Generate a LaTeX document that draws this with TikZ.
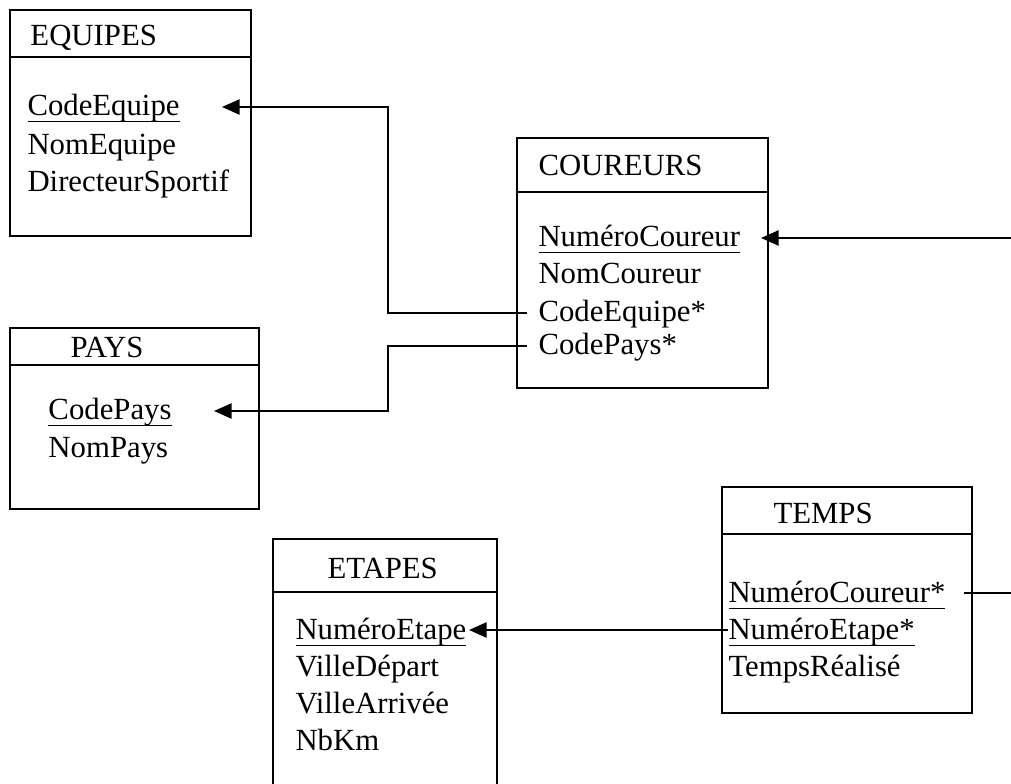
\documentclass[tikz,border=0pt]{standalone}
\usepackage{fontspec}
\setmainfont{Liberation Serif}
\usetikzlibrary{arrows.meta, fit}

\newcommand{\pk}[1]{\underline{\raisebox{0pt}[\height][1pt]{#1}}}

\tikzset{
  table/.style={draw, line width=0.8pt, inner sep=0pt},
  head/.style={anchor=base west, inner sep=0pt, font=\fontsize{12.3}{14}\selectfont},
  field/.style={head, text height=7.2pt, text depth=0pt},
  stub/.style={line width=0.8pt},
  link/.style={stub, -{Triangle[length=7pt,width=6pt]}}
}

\begin{document}
\begin{tikzpicture}[x=0.4pt, y=-0.4pt]
    % Page frame, the size of the scan
    \useasboundingbox (0,0) rectangle (1011,784);
    \coordinate (rim) at (1011,0);

    % Tables and their header rules
    \node[table, fit={(10,10) (251,236)}] (equipes) {};
    \node[table, fit={(517,138) (768,388)}] (coureurs) {};
    \node[table, fit={(10,328) (259,509)}] (pays) {};
    \node[table, fit={(273,539) (497,792)}] (etapes) {};
    \node[table, fit={(722,487) (972,713)}] (temps) {};
    \foreach \t/\d in {equipes/48, coureurs/55, pays/38, etapes/54, temps/48}
        \draw[stub] ([yshift=-\d*0.4pt]\t.north west) -- ([yshift=-\d*0.4pt]\t.north east);

    % Titles
    \node[head] (equipes-t) at (30,46) {EQUIPES};
    \node[head] (coureurs-t) at (538,176) {COUREURS};
    \node[head] (pays-t) at (70,358) {PAYS};
    \node[head] (etapes-t) at (327,578) {ETAPES};
    \node[head] (temps-t) at (773,524) {TEMPS};

    % Fields
    \node[field] (e-code) at (27,116) {\pk{CodeEquipe}};
    \node[field] (e-nom) at (27,155) {NomEquipe};
    \node[field] (e-dir) at (27,192) {DirecteurSportif};

    \node[field] (c-num) at (538,247) {\pk{NuméroCoureur}};
    \node[field] (c-nom) at (538,284) {NomCoureur};
    \node[field] (c-equipe) at (538,322) {CodeEquipe*};
    \node[field] (c-pays) at (538,355) {CodePays*};

    \node[field] (p-code) at (48,420) {\pk{CodePays}};
    \node[field] (p-nom) at (48,458) {NomPays};

    \node[field] (et-num) at (295,639) {\pk{NuméroEtape}};
    \node[field] (et-dep) at (295,676) {VilleDépart};
    \node[field] (et-arr) at (295,713) {VilleArrivée};
    \node[field] (et-km) at (295,750) {NbKm};

    \node[field] (t-coureur) at (728,602) {\pk{NuméroCoureur*}};
    \node[field] (t-etape) at (728,639) {\pk{NuméroEtape*}};
    \node[field] (t-temps) at (728,676) {TempsRéalisé};

    % Foreign keys
    \draw[link] ([xshift=-4.4pt]c-equipe.west) -- ++(-139,0) |- ([xshift=-12pt]equipes.east |- e-code.west);
    \draw[link] ([xshift=-4.4pt]c-pays.west) -- ++(-139,0) |- ([xshift=-18.4pt]pays.east |- p-code.west);
    \draw[link] (c-num.west -| rim) -- ([xshift=-3.2pt]coureurs.east |- c-num.west);
    \draw[stub] ([xshift=-3.6pt]temps.east |- t-coureur.west) -- (t-coureur.west -| rim);
    \draw[link] (t-etape.west) -- ([xshift=-11.6pt]etapes.east |- t-etape.west);
\end{tikzpicture}
\end{document}
